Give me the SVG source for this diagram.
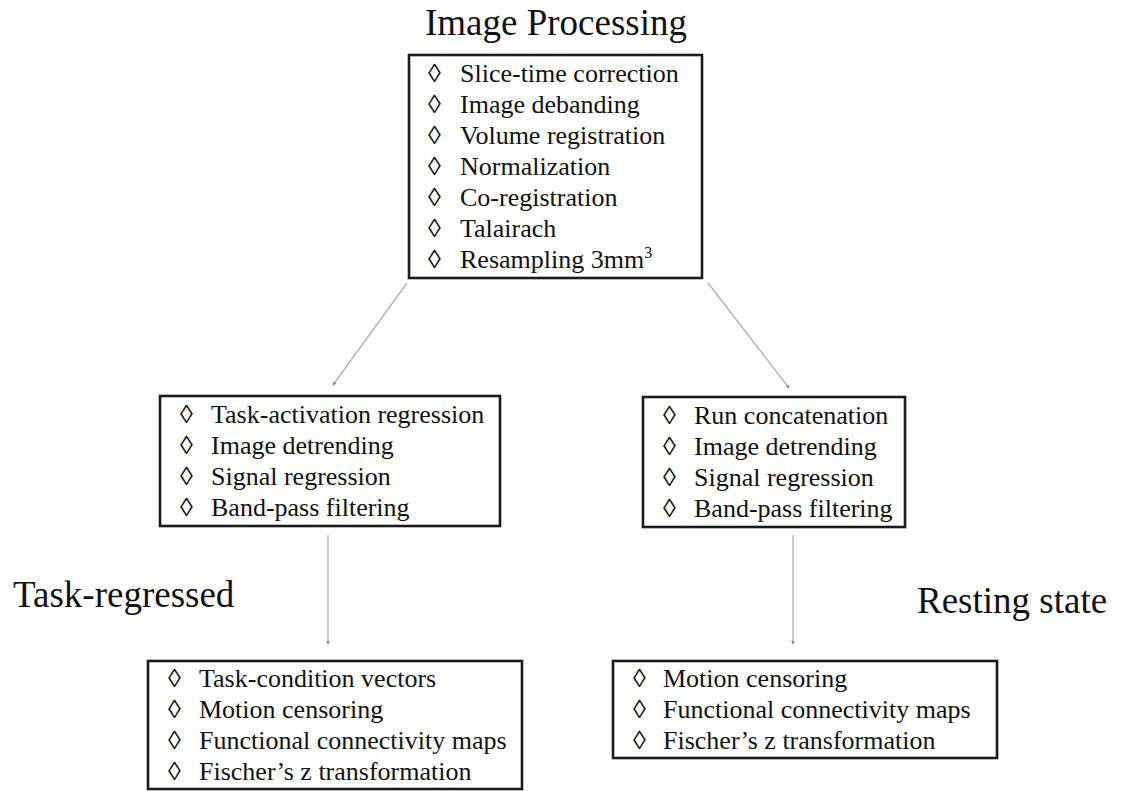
<svg xmlns="http://www.w3.org/2000/svg" width="1126" height="791" viewBox="0 0 1126 791">
<style>
.box{fill:#fff;stroke:#1a1a1a;stroke-width:2.6}
.t{font-family:"Liberation Serif","Times New Roman",serif;font-size:26px;fill:#111}
.h{font-family:"Liberation Serif","Times New Roman",serif;font-size:37px;fill:#111}
.c{stroke:#b0b0b0;stroke-width:1.3;fill:none}
</style>
<defs>
<marker id="ah" viewBox="0 0 6 6" refX="5" refY="3" markerWidth="4" markerHeight="4" orient="auto" markerUnits="userSpaceOnUse">
<path d="M0,0 L6,3 L0,6 z" fill="#888"/>
</marker>
</defs>
<rect width="1126" height="791" fill="#fff"/>
<text class="h" x="556" y="35" text-anchor="middle">Image Processing</text>
<text class="h" x="13" y="607">Task-regressed</text>
<text class="h" x="917" y="613">Resting state</text>
<g id="connectors">
<line class="c" x1="407" y1="283" x2="333" y2="385" marker-end="url(#ah)"/>
<line class="c" x1="708" y1="283" x2="789" y2="388" marker-end="url(#ah)"/>
<line class="c" x1="328" y1="535" x2="328" y2="644" marker-end="url(#ah)"/>
<line class="c" x1="793" y1="535" x2="793" y2="644" marker-end="url(#ah)"/>
</g>
<g id="node-processing">
<rect class="box" x="409" y="55" width="293" height="223"/>
<text class="t" x="428" y="82">◊</text><text class="t" x="460" y="82">Slice-time correction</text>
<text class="t" x="428" y="113">◊</text><text class="t" x="460" y="113">Image debanding</text>
<text class="t" x="428" y="144">◊</text><text class="t" x="460" y="144">Volume registration</text>
<text class="t" x="428" y="175">◊</text><text class="t" x="460" y="175">Normalization</text>
<text class="t" x="428" y="206">◊</text><text class="t" x="460" y="206">Co-registration</text>
<text class="t" x="428" y="237">◊</text><text class="t" x="460" y="237">Talairach</text>
<text class="t" x="428" y="268">◊</text><text class="t" x="460" y="268">Resampling 3mm<tspan font-size="16" dy="-10">3</tspan></text>
</g>
<g id="node-task-mid">
<rect class="box" x="160" y="396" width="340" height="130"/>
<text class="t" x="180" y="423">◊</text><text class="t" x="211" y="423">Task-activation regression</text>
<text class="t" x="180" y="454">◊</text><text class="t" x="211" y="454">Image detrending</text>
<text class="t" x="180" y="485">◊</text><text class="t" x="211" y="485">Signal regression</text>
<text class="t" x="180" y="516">◊</text><text class="t" x="211" y="516">Band-pass filtering</text>
</g>
<g id="node-rest-mid">
<rect class="box" x="643" y="397" width="262" height="130"/>
<text class="t" x="663" y="424">◊</text><text class="t" x="694" y="424">Run concatenation</text>
<text class="t" x="663" y="455">◊</text><text class="t" x="694" y="455">Image detrending</text>
<text class="t" x="663" y="486">◊</text><text class="t" x="694" y="486">Signal regression</text>
<text class="t" x="663" y="517">◊</text><text class="t" x="694" y="517">Band-pass filtering</text>
</g>
<g id="node-task-bottom">
<rect class="box" x="148" y="661" width="374" height="128"/>
<text class="t" x="168" y="687">◊</text><text class="t" x="199" y="687">Task-condition vectors</text>
<text class="t" x="168" y="718">◊</text><text class="t" x="199" y="718">Motion censoring</text>
<text class="t" x="168" y="749">◊</text><text class="t" x="199" y="749">Functional connectivity maps</text>
<text class="t" x="168" y="780">◊</text><text class="t" x="199" y="780">Fischer’s z transformation</text>
</g>
<g id="node-rest-bottom">
<rect class="box" x="613" y="661" width="384" height="97"/>
<text class="t" x="633" y="687">◊</text><text class="t" x="663" y="687">Motion censoring</text>
<text class="t" x="633" y="718">◊</text><text class="t" x="663" y="718">Functional connectivity maps</text>
<text class="t" x="633" y="749">◊</text><text class="t" x="663" y="749">Fischer’s z transformation</text>
</g>
</svg>
